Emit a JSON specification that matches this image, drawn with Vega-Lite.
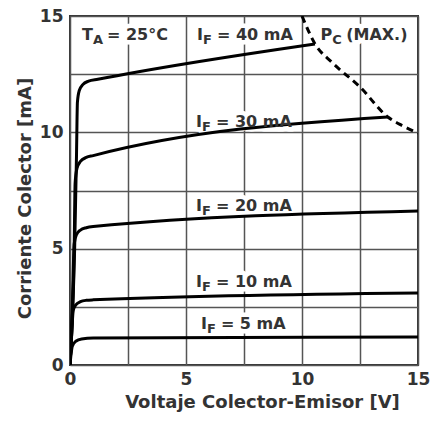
{
  "$schema": "https://vega.github.io/schema/vega-lite/v6.json",
  "autosize": "none",
  "width": 348,
  "height": 349,
  "padding": {"left": 70, "top": 16, "right": 14, "bottom": 56},
  "background": "white",
  "config": {
    "view": {"stroke": "#333", "strokeWidth": 2},
    "font": "DejaVu Sans"
  },
  "datasets": {
    "curves": [
      {"s": "5", "v": 0, "i": 0}, {"s": "5", "v": 0.05, "i": 0.5}, {"s": "5", "v": 0.1, "i": 0.8}, {"s": "5", "v": 0.25, "i": 1.02}, {"s": "5", "v": 0.5, "i": 1.12}, {"s": "5", "v": 1, "i": 1.16}, {"s": "5", "v": 15, "i": 1.2},
      {"s": "10", "v": 0, "i": 0}, {"s": "10", "v": 0.08, "i": 1.5}, {"s": "10", "v": 0.14, "i": 2.35}, {"s": "10", "v": 0.25, "i": 2.58}, {"s": "10", "v": 0.45, "i": 2.72}, {"s": "10", "v": 0.7, "i": 2.78}, {"s": "10", "v": 1, "i": 2.8}, {"s": "10", "v": 15, "i": 3.09},
      {"s": "20", "v": 0, "i": 0}, {"s": "20", "v": 0.1, "i": 2.5}, {"s": "20", "v": 0.18, "i": 5.2}, {"s": "20", "v": 0.28, "i": 5.6}, {"s": "20", "v": 0.45, "i": 5.8}, {"s": "20", "v": 0.7, "i": 5.9}, {"s": "20", "v": 1, "i": 5.95}, {"s": "20", "v": 15, "i": 6.62},
      {"s": "30", "v": 0, "i": 0}, {"s": "30", "v": 0.1, "i": 2}, {"s": "30", "v": 0.18, "i": 5}, {"s": "30", "v": 0.22, "i": 7.8}, {"s": "30", "v": 0.3, "i": 8.45}, {"s": "30", "v": 0.45, "i": 8.75}, {"s": "30", "v": 0.7, "i": 8.92}, {"s": "30", "v": 1, "i": 9.0}, {"s": "30", "v": 13.7, "i": 10.66},
      {"s": "40", "v": 0, "i": 0}, {"s": "40", "v": 0.1, "i": 2}, {"s": "40", "v": 0.2, "i": 5}, {"s": "40", "v": 0.28, "i": 9}, {"s": "40", "v": 0.32, "i": 11.3}, {"s": "40", "v": 0.4, "i": 11.8}, {"s": "40", "v": 0.55, "i": 12.05}, {"s": "40", "v": 0.8, "i": 12.2}, {"s": "40", "v": 1.2, "i": 12.28}, {"s": "40", "v": 10.56, "i": 13.8}
    ],
    "pc": [
      {"v": 10, "i": 15}, {"v": 10.56, "i": 13.8}, {"v": 11.3, "i": 13.0}, {"v": 12.5, "i": 11.95}, {"v": 13.7, "i": 10.66}, {"v": 14.3, "i": 10.3}, {"v": 15, "i": 9.97}
    ],
    "labels": [
      {"x": 0.99, "y": 13.97, "pre": "T", "sub": "A", "rest": "= 25°C"},
      {"x": 5.73, "y": 13.97, "pre": "I", "sub": "F", "rest": "= 40 mA"},
      {"x": 11.3, "y": 13.97, "pre": "P", "sub": "C", "rest": "(MAX.)"},
      {"x": 5.69, "y": 10.23, "pre": "I", "sub": "F", "rest": "= 30 mA"},
      {"x": 5.69, "y": 6.62, "pre": "I", "sub": "F", "rest": "= 20 mA"},
      {"x": 5.69, "y": 3.35, "pre": "I", "sub": "F", "rest": "= 10 mA"},
      {"x": 5.9, "y": 1.55, "pre": "I", "sub": "F", "rest": "= 5 mA"}
    ]
  },
  "layer": [
    {
      "data": {"name": "labels"},
      "mark": {"type": "text", "fontSize": 16, "fontWeight": "bold", "align": "right", "baseline": "alphabetic", "stroke": "white", "strokeWidth": 9, "strokeJoin": "round", "fill": "white"},
      "encoding": {
        "x": {"field": "x", "type": "quantitative", "scale": {"domain": [0, 15], "nice": false, "zero": false},
          "axis": {"values": [0, 2.5, 5, 7.5, 10, 12.5, 15], "labelExpr": "datum.value % 5 === 0 ? datum.label : ''", "title": "Voltaje Colector-Emisor [V]",
            "domain": false, "ticks": false, "labelPadding": 6, "labelFlush": false, "labelFontSize": 17, "labelFontWeight": "bold", "labelColor": "#333",
            "gridColor": "#555", "gridWidth": 1.5, "gridOpacity": 1,
            "titleFontSize": 18, "titleFontWeight": "bold", "titleColor": "#333", "titleX": 192, "titleY": 42, "titleBaseline": "alphabetic", "titleAnchor": null}},
        "y": {"field": "y", "type": "quantitative", "scale": {"domain": [0, 15], "nice": false, "zero": false},
          "axis": {"values": [0, 2.5, 5, 7.5, 10, 12.5, 15], "labelExpr": "datum.value % 5 === 0 ? datum.label : ''", "title": "Corriente Colector [mA]",
            "domain": false, "ticks": false, "labelPadding": 7, "labelFlush": false, "labelFontSize": 17, "labelFontWeight": "bold", "labelColor": "#333",
            "gridColor": "#555", "gridWidth": 1.5, "gridOpacity": 1,
            "titleFontSize": 18, "titleFontWeight": "bold", "titleColor": "#333", "titleX": -45, "titleY": 182, "titleBaseline": "middle"}},
        "text": {"field": "pre"}
      }
    },
    {
      "data": {"name": "labels"},
      "mark": {"type": "text", "fontSize": 13, "fontWeight": "bold", "align": "left", "baseline": "alphabetic", "dy": 4, "stroke": "white", "strokeWidth": 9, "strokeJoin": "round", "fill": "white"},
      "encoding": {"x": {"field": "x", "type": "quantitative"}, "y": {"field": "y", "type": "quantitative"}, "text": {"field": "sub"}}
    },
    {
      "data": {"name": "labels"},
      "mark": {"type": "text", "fontSize": 16, "fontWeight": "bold", "align": "left", "baseline": "alphabetic", "dx": 14, "stroke": "white", "strokeWidth": 9, "strokeJoin": "round", "fill": "white"},
      "encoding": {"x": {"field": "x", "type": "quantitative"}, "y": {"field": "y", "type": "quantitative"}, "text": {"field": "rest"}}
    },
    {
      "data": {"name": "curves"},
      "mark": {"type": "line", "color": "black", "strokeWidth": 3, "interpolate": "monotone", "clip": true},
      "encoding": {"x": {"field": "v", "type": "quantitative"}, "y": {"field": "i", "type": "quantitative"}, "detail": {"field": "s"}}
    },
    {
      "data": {"name": "pc"},
      "mark": {"type": "line", "color": "black", "strokeWidth": 3, "strokeDash": [7, 5], "interpolate": "monotone", "clip": true},
      "encoding": {"x": {"field": "v", "type": "quantitative"}, "y": {"field": "i", "type": "quantitative"}}
    },
    {
      "data": {"name": "labels"},
      "mark": {"type": "text", "fontSize": 16, "fontWeight": "bold", "align": "right", "baseline": "alphabetic", "color": "#333"},
      "encoding": {"x": {"field": "x", "type": "quantitative"}, "y": {"field": "y", "type": "quantitative"}, "text": {"field": "pre"}}
    },
    {
      "data": {"name": "labels"},
      "mark": {"type": "text", "fontSize": 13, "fontWeight": "bold", "align": "left", "baseline": "alphabetic", "dy": 4, "color": "#333"},
      "encoding": {"x": {"field": "x", "type": "quantitative"}, "y": {"field": "y", "type": "quantitative"}, "text": {"field": "sub"}}
    },
    {
      "data": {"name": "labels"},
      "mark": {"type": "text", "fontSize": 16, "fontWeight": "bold", "align": "left", "baseline": "alphabetic", "dx": 14, "color": "#333"},
      "encoding": {"x": {"field": "x", "type": "quantitative"}, "y": {"field": "y", "type": "quantitative"}, "text": {"field": "rest"}}
    }
  ]
}
